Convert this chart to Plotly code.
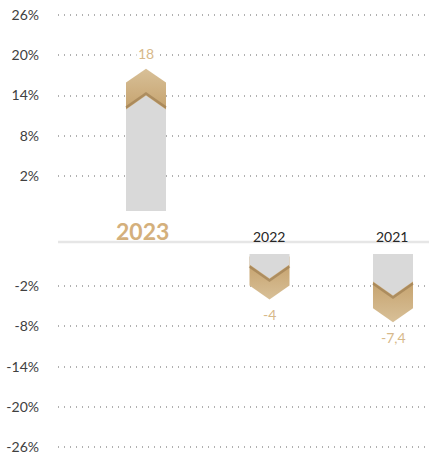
import plotly.graph_objects as go

# ---- data ----
years = ["2023", "2022", "2021"]
values = [18, -4, -7.4]
value_labels = ["18", "-4", "-7,4"]
pos_ticks = [2, 8, 14, 20, 26]
neg_ticks = [-2, -8, -14, -20, -26]

TAN_LIGHT = "#d8c098"
TAN_DARK = "#c29d66"
EDGE = "#8f6f44"
GRAY = "#d9d9d9"
TXT = "#404040"
FONT = "Lato"

fig = go.Figure()

HW = 0.162          # half bar width (x units)
TIPH = 2.08         # chevron height (value units)
POS_BASE = -3.2     # where positive bars start (on positive axis)
NEG_BASE = 2.77     # where negative bars start (on negative axis)

for i, (yr, v) in enumerate(zip(years, values)):
    if v >= 0:
        s = 1
        base = POS_BASE
        yax = "y"
    else:
        s = -1
        base = NEG_BASE
        yax = "y2"
    length = abs(v - base)
    off = min(4.0, 0.46 * length)
    x0, x1 = i - HW, i + HW
    # tan chevron arrow
    tan_low = v - s * (off + TIPH + 1.2)
    xs = [x0, x0, i, x1, x1, x0]
    ys = [tan_low, v - s * TIPH, v, v - s * TIPH, tan_low, tan_low]
    fig.add_trace(go.Scatter(
        x=xs, y=ys, yaxis=yax, mode="lines", fill="toself",
        line=dict(width=0), hoverinfo="skip", showlegend=False,
        fillgradient=dict(type="vertical",
                          colorscale=[[0, TAN_DARK if s > 0 else TAN_LIGHT],
                                      [1, TAN_LIGHT if s > 0 else TAN_DARK]]),
    ))
    # dark edge along gray chevron
    gt = v - s * off
    fig.add_trace(go.Scatter(
        x=[x0, i, x1], y=[gt - s * TIPH + s * 0.3, gt + s * 0.3, gt - s * TIPH + s * 0.3],
        yaxis=yax, mode="lines", line=dict(color=EDGE, width=2.5),
        opacity=0.5, hoverinfo="skip", showlegend=False,
    ))
    # gray body with chevron end
    gs = gt - s * TIPH
    fig.add_trace(go.Scatter(
        x=[x0, x0, i, x1, x1, x0], y=[base, gs, gt, gs, base, base],
        yaxis=yax, mode="lines", fill="toself", fillcolor=GRAY,
        line=dict(width=0), hoverinfo="skip", showlegend=False,
    ))
    # value label
    fig.add_annotation(
        x=i, y=v, yref=yax, text=value_labels[i], showarrow=False,
        yanchor="bottom" if s > 0 else "top", yshift=5 * s,
        bgcolor="white", borderpad=1,
        font=dict(family=FONT, size=14, color="#d7b98a"),
    )
    # year label
    if i == 0:
        fig.add_annotation(x=i, y=1 - 231 / 461, yref="paper", text="<b>" + yr + "</b>",
                           showarrow=False, xshift=-4,
                           font=dict(family=FONT, size=23, color="#d4b07c"))
    else:
        fig.add_annotation(x=i, y=1 - 236 / 461, yref="paper", text=yr,
                           showarrow=False, xshift=-1,
                           font=dict(family=FONT, size=14, color="#262626"))

# baseline separator
fig.add_shape(type="line", xref="paper", yref="paper", x0=0, x1=1,
              y0=1 - 242 / 461, y1=1 - 242 / 461,
              line=dict(color="#e6e6e6", width=2.5))

PPU = 6.72
top_d0 = 1 - 215 / 461
bot_d1 = 1 - 248 / 461

fig.update_layout(
    width=429, height=461,
    margin=dict(l=58, r=0, t=0, b=0),
    paper_bgcolor="white", plot_bgcolor="white",
    xaxis=dict(range=[-0.7126, 2.2915], showgrid=False, zeroline=False,
               showticklabels=False, ticks=""),
    yaxis=dict(domain=[top_d0, 1],
               range=[(189.6 - 215) / PPU, 189.6 / PPU],
               tickvals=pos_ticks, ticktext=[f"{t}%" for t in pos_ticks],
               showgrid=True, gridcolor="#b0b0b0", griddash="1px,5px", gridwidth=1.5,
               zeroline=False, ticks="", ticklabelstandoff=18,
               tickfont=dict(family=FONT, size=14, color=TXT)),
    yaxis2=dict(domain=[0, bot_d1],
                range=[(272.6 - 461) / PPU, (272.6 - 248) / PPU],
                tickvals=neg_ticks, ticktext=[f"{t}%" for t in neg_ticks],
                showgrid=True, gridcolor="#b0b0b0", griddash="1px,5px", gridwidth=1.5,
                zeroline=False, ticks="", ticklabelstandoff=18,
                tickfont=dict(family=FONT, size=14, color=TXT)),
)

fig.write_html("out.html")
